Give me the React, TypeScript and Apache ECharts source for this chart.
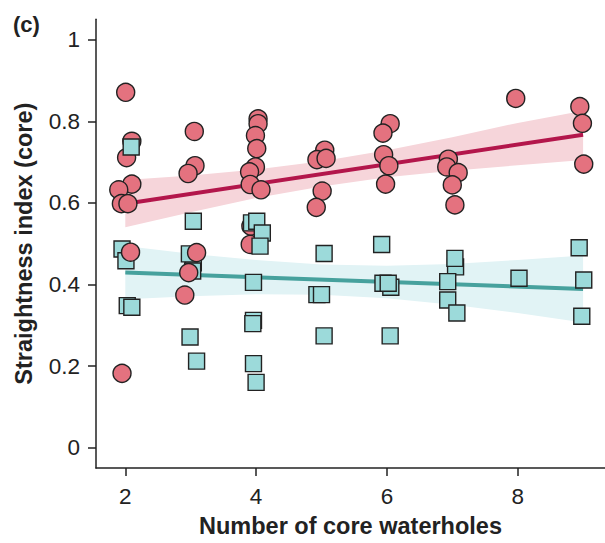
import React, { useEffect, useRef } from "react";
import * as echarts from "echarts";

// Jittered observations: [number of core waterholes, straightness index]
const coreCircles: number[][] = [
  [2.006, 0.871], [2.10, 0.751], [2.02, 0.711], [2.10, 0.646], [1.90, 0.632], [1.94, 0.598], [2.04, 0.598], [1.95, 0.182],
  [3.055, 0.775], [3.066, 0.691], [2.96, 0.672], [2.91, 0.374],
  [4.03, 0.806], [4.03, 0.794], [3.99, 0.765], [4.01, 0.733], [3.99, 0.688], [3.90, 0.676], [3.91, 0.645], [4.075, 0.632], [3.92, 0.543], [3.91, 0.498],
  [5.05, 0.729], [4.93, 0.706], [5.07, 0.709], [5.01, 0.629], [4.92, 0.589],
  [6.05, 0.794], [5.94, 0.771], [5.95, 0.718], [6.03, 0.691], [5.98, 0.646],
  [6.94, 0.707], [6.915, 0.688], [7.09, 0.674], [7.0, 0.644], [7.04, 0.595],
  [7.97, 0.856],
  [8.95, 0.836], [8.99, 0.795], [9.01, 0.695],
];
const coreCirclesTop: number[][] = [
  [2.08, 0.479], [3.09, 0.478], [2.97, 0.429],
];
const coreSquares: number[][] = [
  [2.09, 0.737], [1.95, 0.487], [2.01, 0.458], [2.03, 0.348], [2.10, 0.344],
  [3.04, 0.555], [3.04, 0.453], [3.03, 0.433], [2.98, 0.475], [2.99, 0.271], [3.09, 0.212],
  [3.93, 0.551], [4.01, 0.555], [4.095, 0.526], [4.06, 0.494], [3.96, 0.405], [3.96, 0.312], [3.95, 0.304], [3.96, 0.206], [4.0, 0.160],
  [5.04, 0.476], [4.93, 0.375], [5.0, 0.375], [5.04, 0.274],
  [5.92, 0.498], [5.94, 0.403], [6.06, 0.393], [6.02, 0.403], [6.05, 0.274],
  [7.05, 0.443], [7.04, 0.464], [6.93, 0.407], [6.93, 0.362], [7.07, 0.330],
  [8.02, 0.415],
  [8.94, 0.49], [9.01, 0.411], [8.98, 0.322],
];

// Fitted lines and confidence bands
const fitX: number[] = [2, 9];
const redFit: number[] = [0.598, 0.767];
const tealFit: number[] = [0.429, 0.389];
const bandX: number[] = [2, 3, 4, 5, 6, 7, 8, 9];
const redLo: number[] = [0.540, 0.577, 0.612, 0.640, 0.663, 0.679, 0.692, 0.705];
const redHi: number[] = [0.656, 0.667, 0.682, 0.702, 0.729, 0.761, 0.796, 0.826];
const tealLo: number[] = [0.364, 0.371, 0.376, 0.375, 0.366, 0.350, 0.330, 0.307];
const tealHi: number[] = [0.494, 0.475, 0.460, 0.449, 0.446, 0.450, 0.460, 0.471];

const xTicks: number[] = [2, 4, 6, 8];
const yTicks: number[] = [0, 0.2, 0.4, 0.6, 0.8, 1];

const FONT = "'Liberation Sans', Arial, sans-serif";
const INK = "#222222";

function bandSeries(lo: number[], hi: number[], color: string) {
  return {
    type: "custom",
    data: bandX.map((x, i) => [x, lo[i], hi[i]]),
    encode: { x: 0, y: [1, 2] },
    silent: true,
    z: 1,
    renderItem: (params: any, api: any) => {
      if (params.dataIndex !== 0) return null;
      const pts: number[][] = [];
      for (let i = 0; i < bandX.length; i++) pts.push(api.coord([bandX[i], hi[i]]));
      for (let i = bandX.length - 1; i >= 0; i--) pts.push(api.coord([bandX[i], lo[i]]));
      return { type: "polygon", shape: { points: pts }, style: { fill: color } };
    },
  };
}

function fitSeries(vals: number[], color: string) {
  return {
    type: "line",
    data: fitX.map((x, i) => [x, vals[i]]),
    showSymbol: false,
    silent: true,
    z: 2,
    lineStyle: { color, width: 4 },
  };
}

function pointSeries(data: number[][], symbol: string, size: number, fill: string, z: number) {
  return {
    type: "scatter",
    data,
    symbol,
    symbolSize: size,
    z,
    itemStyle: { color: fill, borderColor: INK, borderWidth: 1.4, opacity: 1 },
  };
}

export default function App() {
  const ref = useRef<HTMLDivElement>(null);
  useEffect(() => {
    if (!ref.current) return;
    const chart = echarts.init(ref.current, null, { renderer: "svg" });
    chart.setOption({
      animation: false,
      backgroundColor: "#ffffff",
      textStyle: { fontFamily: FONT },
      grid: { left: 96, right: 0, top: 19.3, bottom: 70.7, containLabel: false },
      graphic: [
        {
          type: "text",
          left: 13,
          top: 13,
          style: { text: "(c)", font: `bold 22px ${FONT}`, fill: INK },
        },
      ],
      xAxis: {
        type: "value",
        min: 1.552,
        max: 9.335,
        splitLine: { show: false },
        axisLine: { show: true, onZero: false, lineStyle: { color: INK, width: 1.5 } },
        axisTick: { show: true, length: 8, lineStyle: { color: INK, width: 1.5 }, customValues: xTicks },
        axisLabel: { customValues: xTicks, fontSize: 22.5, color: INK, margin: 17, fontFamily: FONT },
        name: "Number of core waterholes",
        nameLocation: "middle",
        nameGap: 46,
        nameTextStyle: { fontSize: 23.5, fontWeight: "bold", color: INK, fontFamily: FONT },
      },
      yAxis: {
        type: "value",
        min: -0.05,
        max: 1.05,
        splitLine: { show: false },
        axisLine: { show: true, onZero: false, lineStyle: { color: INK, width: 1.5 } },
        axisTick: { show: true, length: 8, lineStyle: { color: INK, width: 1.5 }, customValues: yTicks },
        axisLabel: {
          customValues: yTicks,
          fontSize: 22.5,
          color: INK,
          margin: 16,
          fontFamily: FONT,
          formatter: (v: number) => String(Math.round(v * 10) / 10),
        },
        name: "Straightness index (core)",
        nameLocation: "middle",
        nameGap: 60,
        nameTextStyle: { fontSize: 23.5, fontWeight: "bold", color: INK, fontFamily: FONT },
      },
      series: [
        bandSeries(redLo, redHi, "#F6D5DA"),
        bandSeries(tealLo, tealHi, "#E1F3F5"),
        fitSeries(redFit, "#B3164B"),
        fitSeries(tealFit, "#46A19D"),
        pointSeries(coreCircles, "circle", 18, "#E4727F", 3),
        pointSeries(coreSquares, "rect", 16, "#9CDADA", 4),
        pointSeries(coreCirclesTop, "circle", 18, "#E4727F", 5),
      ],
    });
    return () => chart.dispose();
  }, []);
  return (
    <div
      ref={ref}
      style={{ position: "absolute", left: 0, top: 0, width: 605, height: 543 }}
    />
  );
}
